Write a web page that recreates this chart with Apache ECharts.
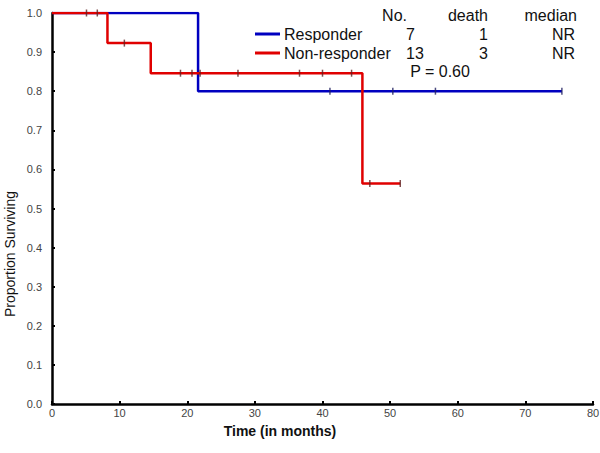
<!DOCTYPE html>
<html><head><meta charset="utf-8">
<script src="https://cdn.jsdelivr.net/npm/echarts@6/dist/echarts.min.js"></script>
<style>html,body{margin:0;padding:0;background:#fff}#c{width:600px;height:453px}</style>
</head><body><div id="c"></div>
<script>
// Kaplan-Meier step data (time in months, proportion surviving)
var respT = [0, 21.6, 75.4];
var respS = [1.0, 0.8, 0.8];
var nonT = [0, 8.2, 14.6, 45.9, 51.5];
var nonS = [1.0, 0.923, 0.846, 0.564, 0.564];
// censor marks
var respCensT = [41.1, 50.4, 56.7, 75.4];
var respCensS = [0.8, 0.8, 0.8, 0.8];
var nonCensT = [5.1, 6.7, 10.7, 19.0, 20.7, 21.9, 27.5, 36.6, 40.0, 44.3, 47.0, 51.5];
var nonCensS = [1.0, 1.0, 0.923, 0.846, 0.846, 0.846, 0.846, 0.846, 0.846, 0.846, 0.564, 0.564];
// legend table
var groups = ['Responder', 'Non-responder'];
var tableHeader = ['No.', 'death', 'median'];
var nums = ['7', '13'];
var deaths = ['1', '3'];
var medians = ['NR', 'NR'];
var pText = 'P = 0.60';
var xTitle = 'Time (in months)';
var yTitle = 'Proportion Surviving';
var colors = ['#0000c0', '#e00000'];

function zip(a, b) { return a.map(function (v, i) { return [v, b[i]]; }); }
var font = 'Liberation Sans, Arial, sans-serif';

var chart = echarts.init(document.getElementById('c'), null, {renderer: 'svg'});
var txt = function (x, y, s, align, extra) {
  var st = {text: s, font: '16px ' + font, fill: '#111', textAlign: align || 'left', textVerticalAlign: 'middle'};
  if (extra) for (var k in extra) st[k] = extra[k];
  return {type: 'text', x: x, y: y, style: st};
};
var graphics = [];
graphics.push(txt(407, 15, tableHeader[0], 'right'));
graphics.push(txt(488, 15, tableHeader[1], 'right'));
graphics.push(txt(577, 15, tableHeader[2], 'right'));
for (var i = 0; i < 2; i++) {
  var y = 34 + i * 19;
  graphics.push(txt(406, y, nums[i], 'left'));
  graphics.push(txt(488, y, deaths[i], 'right'));
  graphics.push(txt(575, y, medians[i], 'right'));
}
graphics.push(txt(440, 71, pText, 'center'));
graphics.push(txt(280, 431, xTitle, 'center', {font: 'bold 14px ' + font}));
var yt = txt(0, 0, yTitle, 'center', {font: '14px ' + font});
yt.x = 10; yt.y = 254; yt.rotation = Math.PI / 2;
graphics.push(yt);

chart.setOption({
  animation: false,
  grid: {left: 52, right: 7, top: 13, bottom: 49, containLabel: false, outerBoundsMode: 'none'},
  legend: {
    orient: 'vertical', left: 250, top: 21, itemGap: 3, itemWidth: 25, itemHeight: 3,
    icon: 'rect', data: groups,
    textStyle: {fontFamily: font, fontSize: 16, color: '#111', padding: [0, 0, 0, -1]}
  },
  xAxis: {
    type: 'value', min: 0, max: 80, interval: 10,
    axisLine: {show: true, lineStyle: {color: '#000', width: 2.5}},
    axisTick: {show: true, inside: true, length: 3, lineStyle: {color: '#000', width: 2}},
    axisLabel: {fontFamily: font, fontSize: 11, color: '#444', margin: 3},
    splitLine: {show: false}
  },
  yAxis: {
    type: 'value', min: 0, max: 1, interval: 0.1,
    axisLine: {show: true, lineStyle: {color: '#000', width: 2.5}},
    axisTick: {show: true, inside: true, length: 3, lineStyle: {color: '#000', width: 2}},
    axisLabel: {fontFamily: font, fontSize: 11, color: '#444', margin: 10,
      formatter: function (v) { return v.toFixed(1); }},
    splitLine: {show: false}
  },
  graphic: graphics,
  series: [
    {name: groups[0], type: 'line', step: 'end', data: zip(respT, respS), symbol: 'none',
      lineStyle: {color: colors[0], width: 2.5}, itemStyle: {color: colors[0]}, z: 2},
    {name: groups[1], type: 'line', step: 'end', data: zip(nonT, nonS), symbol: 'none',
      lineStyle: {color: colors[1], width: 2.5}, itemStyle: {color: colors[1]}, z: 3},
    {name: groups[0] + ' censored', type: 'scatter', data: zip(respCensT, respCensS),
      symbol: 'rect', symbolSize: [1.5, 7], itemStyle: {color: '#202060'}, z: 4},
    {name: groups[1] + ' censored', type: 'scatter', data: zip(nonCensT, nonCensS),
      symbol: 'rect', symbolSize: [1.5, 7], itemStyle: {color: '#602020'}, z: 4}
  ]
});
</script></body></html>
